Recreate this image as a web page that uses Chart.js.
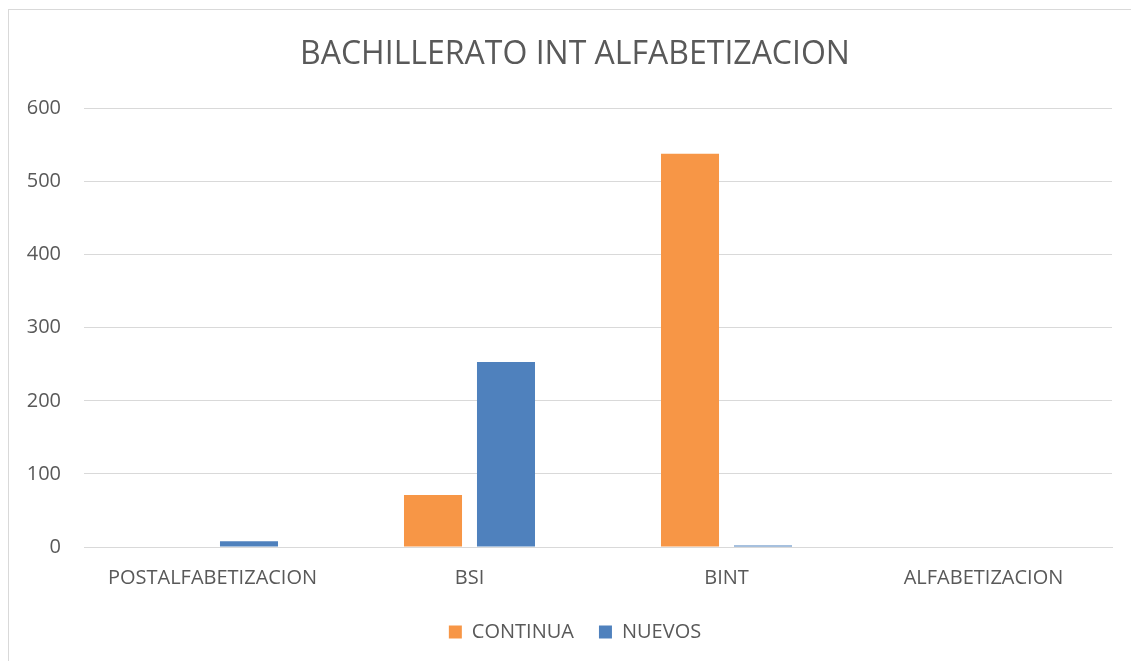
<!DOCTYPE html>
<html>
<head>
<meta charset="utf-8">
<script src="https://cdn.jsdelivr.net/npm/chart.js@4/dist/chart.umd.min.js"></script>
<style>
  html, body { margin: 0; padding: 0; background: #fff; overflow: hidden; }
  #frame { position: absolute; left: 8px; top: 9px; width: 1200px; height: 700px;
           border-left: 1px solid #d9d9d9; border-top: 1px solid #d9d9d9; }
  #wrap { position: absolute; left: 8px; top: 0; width: 1134px; height: 661px; }
</style>
</head>
<body>
<div id="frame"></div>
<div id="wrap"><canvas id="chart"></canvas></div>
<script>
// datos
const categorias = ['POSTALFABETIZACION', 'BSI', 'BINT', 'ALFABETIZACION'];
const continua = [0, 71, 538, 0];
const nuevos = [8, 253, 2, 0];
const yTicks = [0, 100, 200, 300, 400, 500, 600];

const gris = '#595959';
const fuente = "'Open Sans', 'Liberation Sans', sans-serif";

function initChart() {
    const ctx = document.getElementById('chart').getContext('2d');
    new Chart(ctx, {
        type: 'bar',
        data: {
            labels: categorias,
            datasets: [
                {
                    label: 'CONTINUA',
                    data: continua,
                    backgroundColor: '#f79646',
                    barPercentage: 0.795,
                    categoryPercentage: 0.568
                },
                {
                    label: 'NUEVOS',
                    data: nuevos,
                    backgroundColor: '#4f81bd',
                    barPercentage: 0.795,
                    categoryPercentage: 0.568
                }
            ]
        },
        options: {
            responsive: true,
            maintainAspectRatio: false,
            animation: false,
            layout: { padding: { top: 36, right: 0, bottom: 9, left: 0 } },
            plugins: {
                title: {
                    display: true,
                    text: 'BACHILLERATO INT ALFABETIZACION',
                    color: gris,
                    font: { family: fuente, size: 32, weight: 'normal' },
                    padding: { top: 0, bottom: 34 }
                },
                legend: {
                    position: 'bottom',
                    labels: {
                        color: gris,
                        font: { family: fuente, size: 20 },
                        boxWidth: 13,
                        boxHeight: 13,
                        padding: 25
                    }
                },
                tooltip: { enabled: false }
            },
            scales: {
                x: {
                    afterFit: (scale) => { scale.height = 50; },
                    grid: { display: false, drawTicks: false },
                    border: { display: true, color: '#d9d9d9', width: 1 },
                    ticks: { color: gris, font: { family: fuente, size: 20 }, padding: 19 }
                },
                y: {
                    min: 0,
                    max: 600,
                    afterBuildTicks: (scale) => { scale.ticks = yTicks.map(v => ({ value: v })); },
                    afterFit: (scale) => { scale.width = 76; },
                    grid: { color: '#d9d9d9', drawTicks: false },
                    border: { display: false },
                    ticks: { color: gris, font: { family: fuente, size: 20 }, padding: 23 }
                },
                // margen derecho vacio, para que titulo y leyenda queden centrados en el marco
                margen: {
                    type: 'linear',
                    position: 'right',
                    afterFit: (scale) => { scale.width = 30; },
                    grid: { display: false, drawTicks: false },
                    border: { display: false },
                    ticks: { display: false }
                }
            }
        }
    });
}

window.onload = initChart;
</script>
</body>
</html>
